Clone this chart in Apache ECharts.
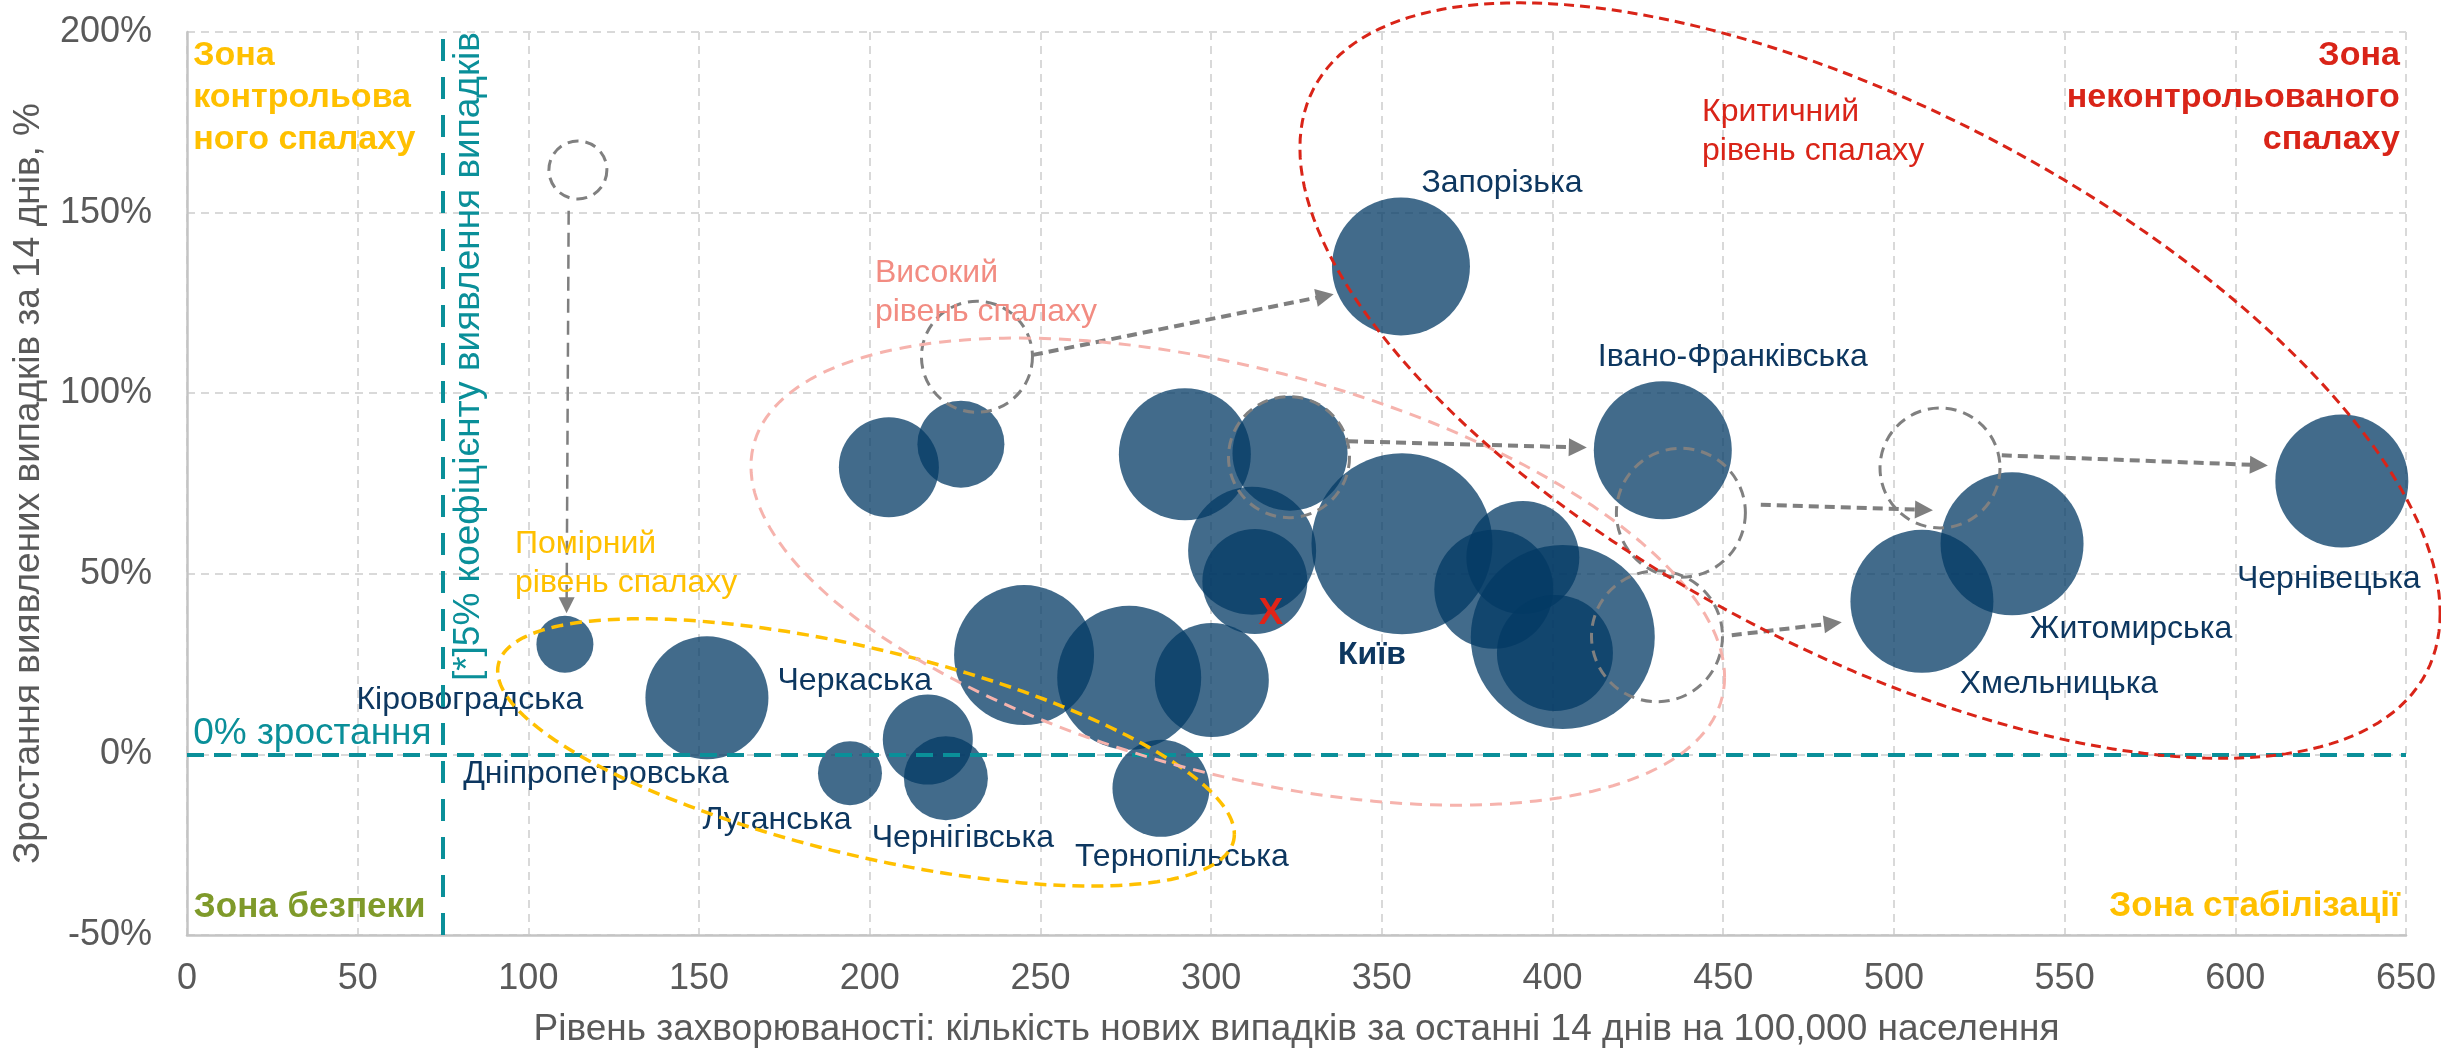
<!DOCTYPE html>
<html><head><meta charset="utf-8">
<script src="https://cdn.jsdelivr.net/npm/echarts@6/dist/echarts.min.js"></script>
<style>html,body{margin:0;padding:0;background:#fff}#c{width:2441px;height:1053px}</style>
</head><body><div id="c"></div>
<script>
const FONT = '"Liberation Sans", Arial, sans-serif';

// ---- Data: current position of each region ----
const regionNames = ['Кіровоградська','Дніпропетровська','Луганська','Черкаська','Чернігівська','Тернопільська',
  'Київ','Запорізька','Івано-Франківська','Чернівецька','Житомирська','Хмельницька',
  '','','','','','','','','','','','',''];
const incidence = [110.7,152.3,194.2,217.0,222.3,285.3, 355.9,355.6,432.3,631.2,534.6,508.2,
  245.2,276.0,300.2,312.8,312.0,292.3,323.1,391.3,382.8,403.0,400.7,205.6,226.7];
const growth = [30.5,15.7,-5.2,4.1,-6.6,-9.4, 58.3,135.1,84.2,75.7,58.3,42.4,
  27.5,21.2,20.6,47.9,56.4,83.1,83.4,54.5,45.7,32.5,28.1,79.5,85.9];
const bubbleValue = [203,946,256,506,441,588, 2048,1190,1190,1106,1278,1278,
  1225,1296,812,689,1024,1089,827,798,885,2116,841,625,473];

// ---- Previous positions (dashed ghosts) ----
const ghostIncidence = [114.5,231.4,322.8,437.6,513.5,430.6];
const ghostGrowth = [161.8,110.1,82.3,66.9,79.3,32.7];
const ghostValue = [210,770,915,1040,900,1073];

// ---- Movement arrows: from -> to ----
const arrowFromX = [111.8,247.8,340.1,461.0,531.6,452.5];
const arrowFromY = [150.5,110.6,86.7,69.1,82.8,33.0];
const arrowToX   = [111.2,333.3,407.4,508.8,606.9,482.1];
const arrowToY   = [41.3,126.9,85.0,67.7,80.1,36.3];

// ---- Zone ellipses (centre and conjugate semi-diameters, data units) ----
const ellipseNames = ['Помірний','Високий','Критичний'];
const ellipseCx = [198.9,307.8,493.0];
const ellipseCy = [0.55,50.6,103.5];
const ellipseUx = [107.9,142.6,167.0];
const ellipseUy = [-22.6,-29.2,-64.4];
const ellipseVy = [-29.3,-57.7,-82.4];

// ---- Axis ticks ----
const xTicks = [0,650,50];
const yTicks = [-50,200,50];
const detectionThreshold = 75;
const zeroGrowth = 0;

// ---- styles (kept separate from data) ----
const NAVY = '#0d3760', TEAL = '#0a8f99', YELLOW = '#ffc000', RED = '#d92418', PINK = '#f28c82', OLIVE = '#7f9a2a', GRAY='#7f7f7f';
const ellipseStyle = [
  {color: YELLOW, width: 3.5, dash: [12, 7]},
  {color: '#f6b3ad', width: 3, dash: [12, 8]},
  {color: RED, width: 3, dash: [10, 6]}
];
const labelOffset = {
  'Кіровоградська': [-95, 56], 'Дніпропетровська': [-111, 76], 'Луганська': [-73, 47],
  'Черкаська': [-73, -58], 'Чернігівська': [17, 60], 'Тернопільська': [21, 69],
  'Київ': [-30, 111], 'Запорізька': [101, -83], 'Івано-Франківська': [70, -93],
  'Чернівецька': [-13, 98], 'Житомирська': [119, 85], 'Хмельницька': [137, 83]
};
const sizeOf = v => Math.sqrt(v) * 4;

const bubbleData = regionNames.map((n, i) => ({
  name: n, value: [incidence[i], growth[i], bubbleValue[i]],
  label: n ? {show: true, offset: labelOffset[n], fontWeight: n === 'Київ' ? 'bold' : 'normal'} : {show: false}
}));
const ghostData = ghostIncidence.map((x, i) => [x, ghostGrowth[i], ghostValue[i]]);
const arrowData = arrowFromX.map((x, i) => ({
  coords: [[x, arrowFromY[i]], [arrowToX[i], arrowToY[i]]],
  lineStyle: i === 0 ? {width: 2.5, type: [14, 8]} : {width: 4, type: [10, 6]},
  symbolSize: i === 0 ? [13, 16] : [16, 18]
}));

function txt(x, y, text, style) {
  return {value: [x, y], label: Object.assign({show: true, formatter: text, fontFamily: FONT}, style)};
}
const annotations = [
  txt(1.8, 199.2, 'Зона\nконтрольова\nного спалаху', {color: YELLOW, fontWeight: 'bold', fontSize: 34, lineHeight: 42, align: 'left', verticalAlign: 'top'}),
  txt(648.2, 199.2, 'Зона\nнеконтрольованого\nспалаху', {color: RED, fontWeight: 'bold', fontSize: 34, lineHeight: 42, align: 'right', verticalAlign: 'top'}),
  txt(443.8, 183.2, 'Критичний\nрівень спалаху', {color: RED, fontSize: 32, lineHeight: 39, align: 'left', verticalAlign: 'top'}),
  txt(201.5, 138.6, 'Високий\nрівень спалаху', {color: PINK, fontSize: 32, lineHeight: 39, align: 'left', verticalAlign: 'top'}),
  txt(96.1, 63.6, 'Помірний\nрівень спалаху', {color: YELLOW, fontSize: 32, lineHeight: 39, align: 'left', verticalAlign: 'top'}),
  txt(1.8, 5.8, '0% зростання', {color: TEAL, fontSize: 37, align: 'left', verticalAlign: 'middle'}),
  txt(2.0, -42.4, 'Зона безпеки', {color: OLIVE, fontWeight: 'bold', fontSize: 35, align: 'left', verticalAlign: 'middle'}),
  txt(648.2, -42.0, 'Зона стабілізації', {color: YELLOW, fontWeight: 'bold', fontSize: 35, align: 'right', verticalAlign: 'middle'}),
  txt(77.0, 200, '[*]5% коефіцієнту виявлення випадків', {color: TEAL, fontSize: 37, rotate: 90, align: 'right', verticalAlign: 'top'}),
  txt(317.5, 38.8, 'X', {color: '#e02418', fontWeight: 'bold', fontSize: 37, align: 'center', verticalAlign: 'middle'})
];

const chart = echarts.init(document.getElementById('c'), null, {renderer: 'canvas'});
chart.setOption({
  animation: false,
  backgroundColor: '#fff',
  grid: {left: 187, right: 35, top: 32, bottom: 113, containLabel: false},
  xAxis: {
    type: 'value', min: xTicks[0], max: xTicks[1], interval: xTicks[2],
    name: 'Рівень захворюваності: кількість нових випадків за останні 14 днів на 100,000 населення',
    nameLocation: 'middle', nameGap: 76,
    nameTextStyle: {fontSize: 37, color: '#595959', fontFamily: FONT},
    axisLine: {show: true, onZero: false, lineStyle: {color: '#c4c4c4', width: 2.5}},
    axisTick: {show: false},
    axisLabel: {fontSize: 36, color: '#595959', margin: 26, fontFamily: FONT},
    splitLine: {show: true, lineStyle: {color: '#d9d9d9', width: 2, type: [8, 6]}}
  },
  yAxis: {
    type: 'value', min: yTicks[0], max: yTicks[1], interval: yTicks[2],
    name: 'Зростання виявлених випадків за 14 днів, %',
    nameLocation: 'middle', nameGap: 140, nameRotate: 90,
    nameTextStyle: {fontSize: 37, color: '#595959', fontFamily: FONT},
    axisLine: {show: true, onZero: false, lineStyle: {color: '#c4c4c4', width: 2.5}},
    axisTick: {show: false},
    axisLabel: {fontSize: 36, color: '#595959', margin: 35, fontFamily: FONT, formatter: '{value}%'},
    splitLine: {show: true, lineStyle: {color: '#d9d9d9', width: 2, type: [8, 6]}}
  },
  series: [
    {
      type: 'scatter', name: 'regions', z: 2, silent: true,
      data: bubbleData,
      symbolSize: v => sizeOf(v[2]),
      itemStyle: {color: 'rgba(3,57,100,0.75)', opacity: 1},
      label: {position: 'inside', formatter: '{b}', color: NAVY, fontSize: 32, fontFamily: FONT},
      emphasis: {disabled: true}
    },
    {
      type: 'scatter', name: 'previous', z: 4, silent: true,
      data: ghostData,
      symbolSize: v => sizeOf(v[2]),
      itemStyle: {color: 'rgba(0,0,0,0)', borderColor: '#808080', borderWidth: 3, borderType: [11, 7], opacity: 1},
      emphasis: {disabled: true}
    },
    {
      type: 'lines', coordinateSystem: 'cartesian2d', z: 4, silent: true,
      data: arrowData,
      symbol: ['none', 'triangle'],
      lineStyle: {color: GRAY, opacity: 1},
      itemStyle: {color: GRAY}
    },
    {
      type: 'custom', coordinateSystem: 'cartesian2d', z: 5, silent: true, clip: false,
      data: ellipseNames.map((n, i) => ({name: n, value: [ellipseCx[i], ellipseCy[i]]})),
      renderItem(params, api) {
        const i = params.dataIndex;
        const cx = api.value(0), cy = api.value(1);
        const pts = [];
        for (let k = 0; k <= 200; k++) {
          const t = k / 200 * Math.PI * 2;
          pts.push(api.coord([cx + ellipseUx[i] * Math.cos(t), cy + ellipseUy[i] * Math.cos(t) + ellipseVy[i] * Math.sin(t)]));
        }
        const s = ellipseStyle[i];
        return {type: 'polyline', shape: {points: pts}, style: {stroke: s.color, lineWidth: s.width, lineDash: s.dash, fill: null}};
      }
    },
    {
      type: 'scatter', name: 'annotations', z: 6, silent: true,
      symbolSize: 0,
      itemStyle: {opacity: 1},
      data: annotations,
      label: {position: 'inside'},
      markLine: {
        silent: true, symbol: 'none', label: {show: false},
        data: [
          {xAxis: detectionThreshold, lineStyle: {color: TEAL, width: 4, type: [22, 16], opacity: 1}},
          {yAxis: zeroGrowth, lineStyle: {color: TEAL, width: 4, type: [17, 10], opacity: 1}}
        ]
      }
    }
  ]
});
</script>
</body></html>
